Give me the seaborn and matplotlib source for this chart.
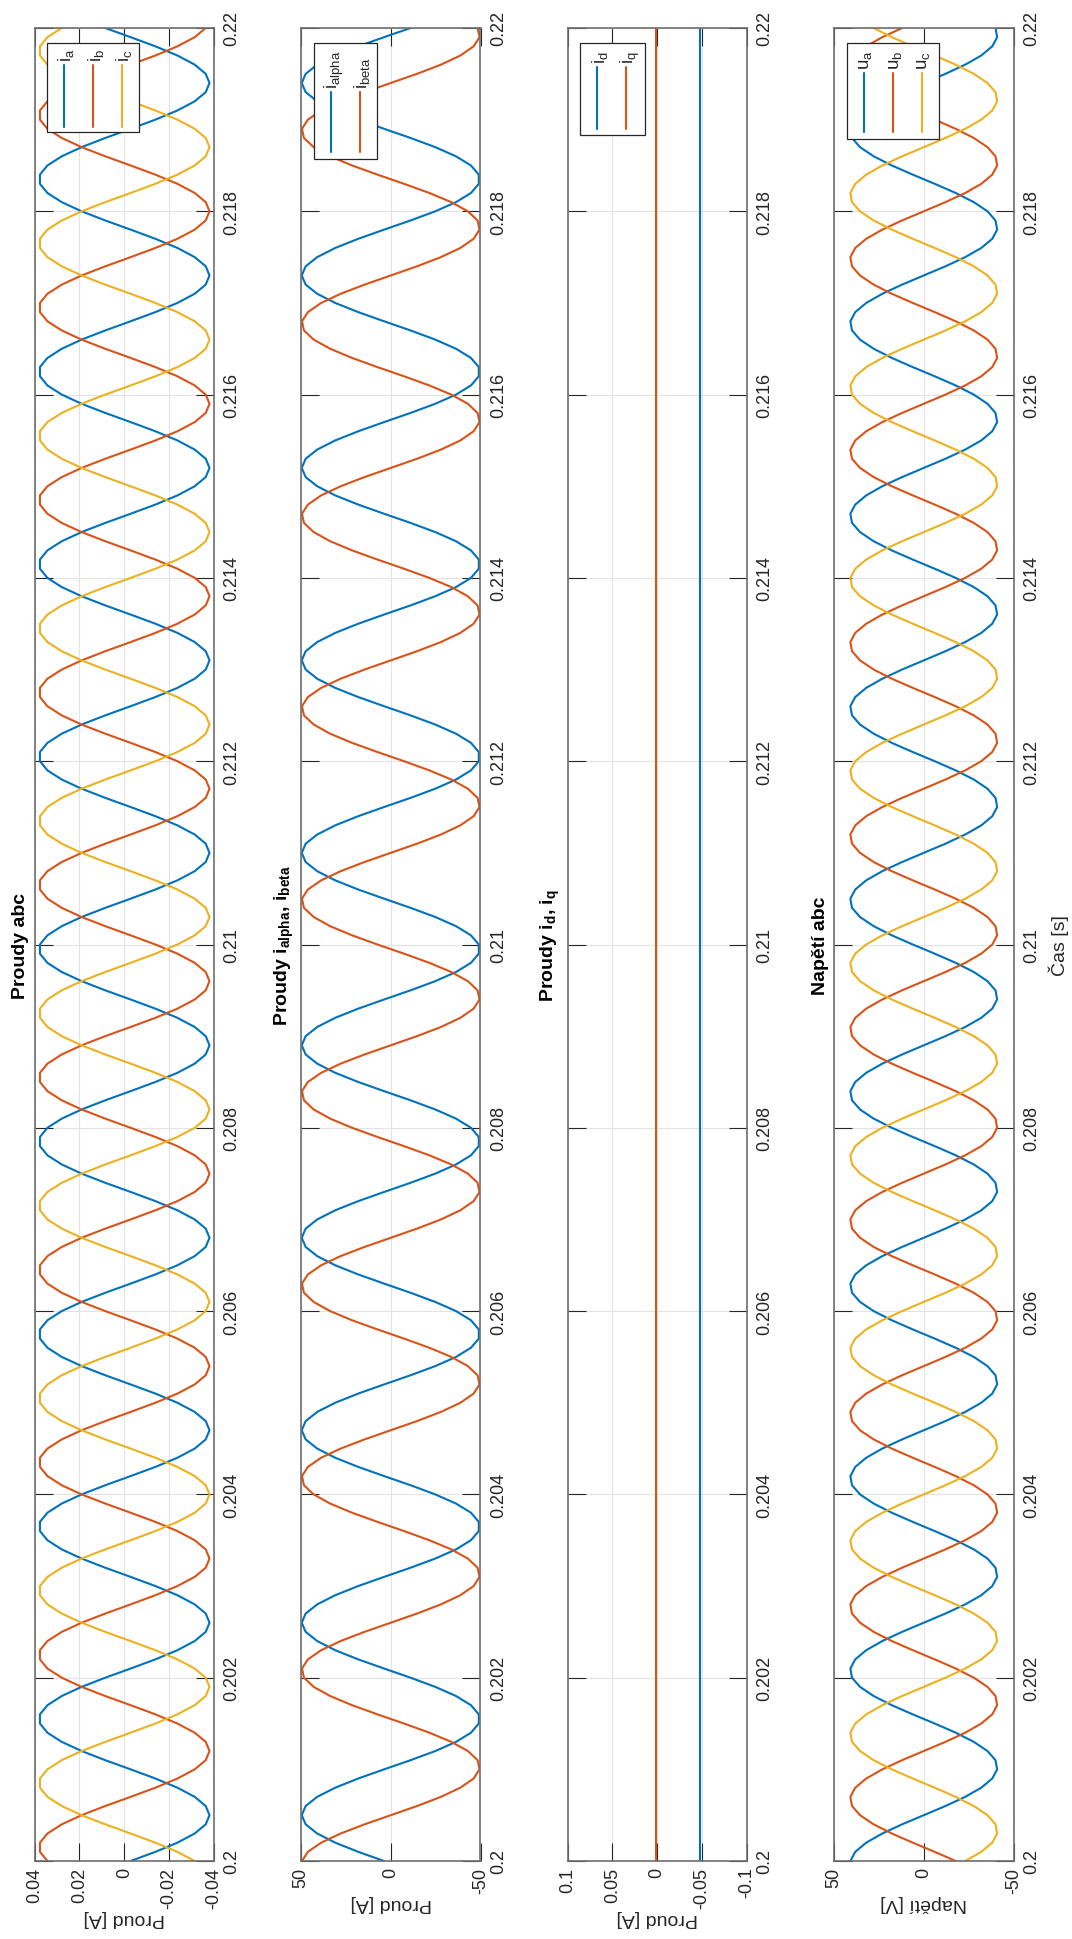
import numpy as np
import pandas as pd
import matplotlib
matplotlib.use("Agg")
import matplotlib.pyplot as plt
import seaborn as sns
from matplotlib.patches import Rectangle
from matplotlib.lines import Line2D

# sample times, 0.1 ms step
t = np.linspace(0.2, 0.22, 201)

# phase currents [A] (one sample per 0.1 ms)
i_a = [
    -0.00284, -0.01388, -0.02369, -0.03140, -0.03631, -0.03800, -0.03631, -0.03140, -0.02369, -0.01388, -0.00284, 0.00846, 0.01900, 0.02786, 0.03424, 0.03758, 0.03758, 0.03424, 0.02786, 0.01900, 0.00846,
    -0.00284, -0.01388, -0.02369, -0.03140, -0.03631, -0.03800, -0.03631, -0.03140, -0.02369, -0.01388, -0.00284, 0.00846, 0.01900, 0.02786, 0.03424, 0.03758, 0.03758, 0.03424, 0.02786, 0.01900, 0.00846,
    -0.00284, -0.01388, -0.02369, -0.03140, -0.03631, -0.03800, -0.03631, -0.03140, -0.02369, -0.01388, -0.00284, 0.00846, 0.01900, 0.02786, 0.03424, 0.03758, 0.03758, 0.03424, 0.02786, 0.01900, 0.00846,
    -0.00284, -0.01388, -0.02369, -0.03140, -0.03631, -0.03800, -0.03631, -0.03140, -0.02369, -0.01388, -0.00284, 0.00846, 0.01900, 0.02786, 0.03424, 0.03758, 0.03758, 0.03424, 0.02786, 0.01900, 0.00846,
    -0.00284, -0.01388, -0.02369, -0.03140, -0.03631, -0.03800, -0.03631, -0.03140, -0.02369, -0.01388, -0.00284, 0.00846, 0.01900, 0.02786, 0.03424, 0.03758, 0.03758, 0.03424, 0.02786, 0.01900, 0.00846,
    -0.00284, -0.01388, -0.02369, -0.03140, -0.03631, -0.03800, -0.03631, -0.03140, -0.02369, -0.01388, -0.00284, 0.00846, 0.01900, 0.02786, 0.03424, 0.03758, 0.03758, 0.03424, 0.02786, 0.01900, 0.00846,
    -0.00284, -0.01388, -0.02369, -0.03140, -0.03631, -0.03800, -0.03631, -0.03140, -0.02369, -0.01388, -0.00284, 0.00846, 0.01900, 0.02786, 0.03424, 0.03758, 0.03758, 0.03424, 0.02786, 0.01900, 0.00846,
    -0.00284, -0.01388, -0.02369, -0.03140, -0.03631, -0.03800, -0.03631, -0.03140, -0.02369, -0.01388, -0.00284, 0.00846, 0.01900, 0.02786, 0.03424, 0.03758, 0.03758, 0.03424, 0.02786, 0.01900, 0.00846,
    -0.00284, -0.01388, -0.02369, -0.03140, -0.03631, -0.03800, -0.03631, -0.03140, -0.02369, -0.01388, -0.00284, 0.00846, 0.01900, 0.02786, 0.03424, 0.03758, 0.03758, 0.03424, 0.02786, 0.01900, 0.00846,
    -0.00284, -0.01388, -0.02369, -0.03140, -0.03631, -0.03800, -0.03631, -0.03140, -0.02369, -0.01388, -0.00284, 0.00846,
]
i_b = [
    0.03424, 0.03758, 0.03758, 0.03424, 0.02786, 0.01900, 0.00846, -0.00284, -0.01388, -0.02369, -0.03140, -0.03631, -0.03800, -0.03631, -0.03140, -0.02369, -0.01388, -0.00284, 0.00846, 0.01900, 0.02786,
    0.03424, 0.03758, 0.03758, 0.03424, 0.02786, 0.01900, 0.00846, -0.00284, -0.01388, -0.02369, -0.03140, -0.03631, -0.03800, -0.03631, -0.03140, -0.02369, -0.01388, -0.00284, 0.00846, 0.01900, 0.02786,
    0.03424, 0.03758, 0.03758, 0.03424, 0.02786, 0.01900, 0.00846, -0.00284, -0.01388, -0.02369, -0.03140, -0.03631, -0.03800, -0.03631, -0.03140, -0.02369, -0.01388, -0.00284, 0.00846, 0.01900, 0.02786,
    0.03424, 0.03758, 0.03758, 0.03424, 0.02786, 0.01900, 0.00846, -0.00284, -0.01388, -0.02369, -0.03140, -0.03631, -0.03800, -0.03631, -0.03140, -0.02369, -0.01388, -0.00284, 0.00846, 0.01900, 0.02786,
    0.03424, 0.03758, 0.03758, 0.03424, 0.02786, 0.01900, 0.00846, -0.00284, -0.01388, -0.02369, -0.03140, -0.03631, -0.03800, -0.03631, -0.03140, -0.02369, -0.01388, -0.00284, 0.00846, 0.01900, 0.02786,
    0.03424, 0.03758, 0.03758, 0.03424, 0.02786, 0.01900, 0.00846, -0.00284, -0.01388, -0.02369, -0.03140, -0.03631, -0.03800, -0.03631, -0.03140, -0.02369, -0.01388, -0.00284, 0.00846, 0.01900, 0.02786,
    0.03424, 0.03758, 0.03758, 0.03424, 0.02786, 0.01900, 0.00846, -0.00284, -0.01388, -0.02369, -0.03140, -0.03631, -0.03800, -0.03631, -0.03140, -0.02369, -0.01388, -0.00284, 0.00846, 0.01900, 0.02786,
    0.03424, 0.03758, 0.03758, 0.03424, 0.02786, 0.01900, 0.00846, -0.00284, -0.01388, -0.02369, -0.03140, -0.03631, -0.03800, -0.03631, -0.03140, -0.02369, -0.01388, -0.00284, 0.00846, 0.01900, 0.02786,
    0.03424, 0.03758, 0.03758, 0.03424, 0.02786, 0.01900, 0.00846, -0.00284, -0.01388, -0.02369, -0.03140, -0.03631, -0.03800, -0.03631, -0.03140, -0.02369, -0.01388, -0.00284, 0.00846, 0.01900, 0.02786,
    0.03424, 0.03758, 0.03758, 0.03424, 0.02786, 0.01900, 0.00846, -0.00284, -0.01388, -0.02369, -0.03140, -0.03631,
]
i_c = [
    -0.03140, -0.02369, -0.01388, -0.00284, 0.00846, 0.01900, 0.02786, 0.03424, 0.03758, 0.03758, 0.03424, 0.02786, 0.01900, 0.00846, -0.00284, -0.01388, -0.02369, -0.03140, -0.03631, -0.03800, -0.03631,
    -0.03140, -0.02369, -0.01388, -0.00284, 0.00846, 0.01900, 0.02786, 0.03424, 0.03758, 0.03758, 0.03424, 0.02786, 0.01900, 0.00846, -0.00284, -0.01388, -0.02369, -0.03140, -0.03631, -0.03800, -0.03631,
    -0.03140, -0.02369, -0.01388, -0.00284, 0.00846, 0.01900, 0.02786, 0.03424, 0.03758, 0.03758, 0.03424, 0.02786, 0.01900, 0.00846, -0.00284, -0.01388, -0.02369, -0.03140, -0.03631, -0.03800, -0.03631,
    -0.03140, -0.02369, -0.01388, -0.00284, 0.00846, 0.01900, 0.02786, 0.03424, 0.03758, 0.03758, 0.03424, 0.02786, 0.01900, 0.00846, -0.00284, -0.01388, -0.02369, -0.03140, -0.03631, -0.03800, -0.03631,
    -0.03140, -0.02369, -0.01388, -0.00284, 0.00846, 0.01900, 0.02786, 0.03424, 0.03758, 0.03758, 0.03424, 0.02786, 0.01900, 0.00846, -0.00284, -0.01388, -0.02369, -0.03140, -0.03631, -0.03800, -0.03631,
    -0.03140, -0.02369, -0.01388, -0.00284, 0.00846, 0.01900, 0.02786, 0.03424, 0.03758, 0.03758, 0.03424, 0.02786, 0.01900, 0.00846, -0.00284, -0.01388, -0.02369, -0.03140, -0.03631, -0.03800, -0.03631,
    -0.03140, -0.02369, -0.01388, -0.00284, 0.00846, 0.01900, 0.02786, 0.03424, 0.03758, 0.03758, 0.03424, 0.02786, 0.01900, 0.00846, -0.00284, -0.01388, -0.02369, -0.03140, -0.03631, -0.03800, -0.03631,
    -0.03140, -0.02369, -0.01388, -0.00284, 0.00846, 0.01900, 0.02786, 0.03424, 0.03758, 0.03758, 0.03424, 0.02786, 0.01900, 0.00846, -0.00284, -0.01388, -0.02369, -0.03140, -0.03631, -0.03800, -0.03631,
    -0.03140, -0.02369, -0.01388, -0.00284, 0.00846, 0.01900, 0.02786, 0.03424, 0.03758, 0.03758, 0.03424, 0.02786, 0.01900, 0.00846, -0.00284, -0.01388, -0.02369, -0.03140, -0.03631, -0.03800, -0.03631,
    -0.03140, -0.02369, -0.01388, -0.00284, 0.00846, 0.01900, 0.02786, 0.03424, 0.03758, 0.03758, 0.03424, 0.02786,
]

# alpha/beta currents [A]
i_alpha = [
    3.71, 18.12, 30.93, 40.98, 47.40, 49.60, 47.40, 40.98, 30.93, 18.12, 3.71, -11.04, -24.80, -36.36, -44.69, -49.05, -49.05, -44.69, -36.36, -24.80, -11.04,
    3.71, 18.12, 30.93, 40.98, 47.40, 49.60, 47.40, 40.98, 30.93, 18.12, 3.71, -11.04, -24.80, -36.36, -44.69, -49.05, -49.05, -44.69, -36.36, -24.80, -11.04,
    3.71, 18.12, 30.93, 40.98, 47.40, 49.60, 47.40, 40.98, 30.93, 18.12, 3.71, -11.04, -24.80, -36.36, -44.69, -49.05, -49.05, -44.69, -36.36, -24.80, -11.04,
    3.71, 18.12, 30.93, 40.98, 47.40, 49.60, 47.40, 40.98, 30.93, 18.12, 3.71, -11.04, -24.80, -36.36, -44.69, -49.05, -49.05, -44.69, -36.36, -24.80, -11.04,
    3.71, 18.12, 30.93, 40.98, 47.40, 49.60, 47.40, 40.98, 30.93, 18.12, 3.71, -11.04, -24.80, -36.36, -44.69, -49.05, -49.05, -44.69, -36.36, -24.80, -11.04,
    3.71, 18.12, 30.93, 40.98, 47.40, 49.60, 47.40, 40.98, 30.93, 18.12, 3.71, -11.04, -24.80, -36.36, -44.69, -49.05, -49.05, -44.69, -36.36, -24.80, -11.04,
    3.71, 18.12, 30.93, 40.98, 47.40, 49.60, 47.40, 40.98, 30.93, 18.12, 3.71, -11.04, -24.80, -36.36, -44.69, -49.05, -49.05, -44.69, -36.36, -24.80, -11.04,
    3.71, 18.12, 30.93, 40.98, 47.40, 49.60, 47.40, 40.98, 30.93, 18.12, 3.71, -11.04, -24.80, -36.36, -44.69, -49.05, -49.05, -44.69, -36.36, -24.80, -11.04,
    3.71, 18.12, 30.93, 40.98, 47.40, 49.60, 47.40, 40.98, 30.93, 18.12, 3.71, -11.04, -24.80, -36.36, -44.69, -49.05, -49.05, -44.69, -36.36, -24.80, -11.04,
    3.71, 18.12, 30.93, 40.98, 47.40, 49.60, 47.40, 40.98, 30.93, 18.12, 3.71, -11.04,
]
i_beta = [
    49.46, 46.17, 38.78, 27.94, 14.62, 0.00, -14.62, -27.94, -38.78, -46.17, -49.46, -48.36, -42.95, -33.74, -21.52, -7.39, 7.39, 21.52, 33.74, 42.95, 48.36,
    49.46, 46.17, 38.78, 27.94, 14.62, 0.00, -14.62, -27.94, -38.78, -46.17, -49.46, -48.36, -42.95, -33.74, -21.52, -7.39, 7.39, 21.52, 33.74, 42.95, 48.36,
    49.46, 46.17, 38.78, 27.94, 14.62, 0.00, -14.62, -27.94, -38.78, -46.17, -49.46, -48.36, -42.95, -33.74, -21.52, -7.39, 7.39, 21.52, 33.74, 42.95, 48.36,
    49.46, 46.17, 38.78, 27.94, 14.62, 0.00, -14.62, -27.94, -38.78, -46.17, -49.46, -48.36, -42.95, -33.74, -21.52, -7.39, 7.39, 21.52, 33.74, 42.95, 48.36,
    49.46, 46.17, 38.78, 27.94, 14.62, 0.00, -14.62, -27.94, -38.78, -46.17, -49.46, -48.36, -42.95, -33.74, -21.52, -7.39, 7.39, 21.52, 33.74, 42.95, 48.36,
    49.46, 46.17, 38.78, 27.94, 14.62, 0.00, -14.62, -27.94, -38.78, -46.17, -49.46, -48.36, -42.95, -33.74, -21.52, -7.39, 7.39, 21.52, 33.74, 42.95, 48.36,
    49.46, 46.17, 38.78, 27.94, 14.62, 0.00, -14.62, -27.94, -38.78, -46.17, -49.46, -48.36, -42.95, -33.74, -21.52, -7.39, 7.39, 21.52, 33.74, 42.95, 48.36,
    49.46, 46.17, 38.78, 27.94, 14.62, 0.00, -14.62, -27.94, -38.78, -46.17, -49.46, -48.36, -42.95, -33.74, -21.52, -7.39, 7.39, 21.52, 33.74, 42.95, 48.36,
    49.46, 46.17, 38.78, 27.94, 14.62, 0.00, -14.62, -27.94, -38.78, -46.17, -49.46, -48.36, -42.95, -33.74, -21.52, -7.39, 7.39, 21.52, 33.74, 42.95, 48.36,
    49.46, 46.17, 38.78, 27.94, 14.62, 0.00, -14.62, -27.94, -38.78, -46.17, -49.46, -48.36,
]

# d/q currents [A] - flat over the window
t_dq = [0.2, 0.22]
i_d = [-0.048, -0.048]
i_q = [0.001, 0.001]

# phase voltages [V]
u_a = [
    40.89, 38.17, 32.06, 23.10, 12.08, 0.00, -12.08, -23.10, -32.06, -38.17, -40.89, -39.97, -35.51, -27.89, -17.79, -6.11, 6.11, 17.79, 27.89, 35.51, 39.97,
    40.89, 38.17, 32.06, 23.10, 12.08, 0.00, -12.08, -23.10, -32.06, -38.17, -40.89, -39.97, -35.51, -27.89, -17.79, -6.11, 6.11, 17.79, 27.89, 35.51, 39.97,
    40.89, 38.17, 32.06, 23.10, 12.08, 0.00, -12.08, -23.10, -32.06, -38.17, -40.89, -39.97, -35.51, -27.89, -17.79, -6.11, 6.11, 17.79, 27.89, 35.51, 39.97,
    40.89, 38.17, 32.06, 23.10, 12.08, 0.00, -12.08, -23.10, -32.06, -38.17, -40.89, -39.97, -35.51, -27.89, -17.79, -6.11, 6.11, 17.79, 27.89, 35.51, 39.97,
    40.89, 38.17, 32.06, 23.10, 12.08, 0.00, -12.08, -23.10, -32.06, -38.17, -40.89, -39.97, -35.51, -27.89, -17.79, -6.11, 6.11, 17.79, 27.89, 35.51, 39.97,
    40.89, 38.17, 32.06, 23.10, 12.08, 0.00, -12.08, -23.10, -32.06, -38.17, -40.89, -39.97, -35.51, -27.89, -17.79, -6.11, 6.11, 17.79, 27.89, 35.51, 39.97,
    40.89, 38.17, 32.06, 23.10, 12.08, 0.00, -12.08, -23.10, -32.06, -38.17, -40.89, -39.97, -35.51, -27.89, -17.79, -6.11, 6.11, 17.79, 27.89, 35.51, 39.97,
    40.89, 38.17, 32.06, 23.10, 12.08, 0.00, -12.08, -23.10, -32.06, -38.17, -40.89, -39.97, -35.51, -27.89, -17.79, -6.11, 6.11, 17.79, 27.89, 35.51, 39.97,
    40.89, 38.17, 32.06, 23.10, 12.08, 0.00, -12.08, -23.10, -32.06, -38.17, -40.89, -39.97, -35.51, -27.89, -17.79, -6.11, 6.11, 17.79, 27.89, 35.51, 39.97,
    40.89, 38.17, 32.06, 23.10, 12.08, 0.00, -12.08, -23.10, -32.06, -38.17, -40.89, -39.97,
]
u_b = [
    -17.79, -6.11, 6.11, 17.79, 27.89, 35.51, 39.97, 40.89, 38.17, 32.06, 23.10, 12.08, 0.00, -12.08, -23.10, -32.06, -38.17, -40.89, -39.97, -35.51, -27.89,
    -17.79, -6.11, 6.11, 17.79, 27.89, 35.51, 39.97, 40.89, 38.17, 32.06, 23.10, 12.08, 0.00, -12.08, -23.10, -32.06, -38.17, -40.89, -39.97, -35.51, -27.89,
    -17.79, -6.11, 6.11, 17.79, 27.89, 35.51, 39.97, 40.89, 38.17, 32.06, 23.10, 12.08, 0.00, -12.08, -23.10, -32.06, -38.17, -40.89, -39.97, -35.51, -27.89,
    -17.79, -6.11, 6.11, 17.79, 27.89, 35.51, 39.97, 40.89, 38.17, 32.06, 23.10, 12.08, 0.00, -12.08, -23.10, -32.06, -38.17, -40.89, -39.97, -35.51, -27.89,
    -17.79, -6.11, 6.11, 17.79, 27.89, 35.51, 39.97, 40.89, 38.17, 32.06, 23.10, 12.08, 0.00, -12.08, -23.10, -32.06, -38.17, -40.89, -39.97, -35.51, -27.89,
    -17.79, -6.11, 6.11, 17.79, 27.89, 35.51, 39.97, 40.89, 38.17, 32.06, 23.10, 12.08, 0.00, -12.08, -23.10, -32.06, -38.17, -40.89, -39.97, -35.51, -27.89,
    -17.79, -6.11, 6.11, 17.79, 27.89, 35.51, 39.97, 40.89, 38.17, 32.06, 23.10, 12.08, 0.00, -12.08, -23.10, -32.06, -38.17, -40.89, -39.97, -35.51, -27.89,
    -17.79, -6.11, 6.11, 17.79, 27.89, 35.51, 39.97, 40.89, 38.17, 32.06, 23.10, 12.08, 0.00, -12.08, -23.10, -32.06, -38.17, -40.89, -39.97, -35.51, -27.89,
    -17.79, -6.11, 6.11, 17.79, 27.89, 35.51, 39.97, 40.89, 38.17, 32.06, 23.10, 12.08, 0.00, -12.08, -23.10, -32.06, -38.17, -40.89, -39.97, -35.51, -27.89,
    -17.79, -6.11, 6.11, 17.79, 27.89, 35.51, 39.97, 40.89, 38.17, 32.06, 23.10, 12.08,
]
u_c = [
    -23.10, -32.06, -38.17, -40.89, -39.97, -35.51, -27.89, -17.79, -6.11, 6.11, 17.79, 27.89, 35.51, 39.97, 40.89, 38.17, 32.06, 23.10, 12.08, 0.00, -12.08,
    -23.10, -32.06, -38.17, -40.89, -39.97, -35.51, -27.89, -17.79, -6.11, 6.11, 17.79, 27.89, 35.51, 39.97, 40.89, 38.17, 32.06, 23.10, 12.08, 0.00, -12.08,
    -23.10, -32.06, -38.17, -40.89, -39.97, -35.51, -27.89, -17.79, -6.11, 6.11, 17.79, 27.89, 35.51, 39.97, 40.89, 38.17, 32.06, 23.10, 12.08, 0.00, -12.08,
    -23.10, -32.06, -38.17, -40.89, -39.97, -35.51, -27.89, -17.79, -6.11, 6.11, 17.79, 27.89, 35.51, 39.97, 40.89, 38.17, 32.06, 23.10, 12.08, 0.00, -12.08,
    -23.10, -32.06, -38.17, -40.89, -39.97, -35.51, -27.89, -17.79, -6.11, 6.11, 17.79, 27.89, 35.51, 39.97, 40.89, 38.17, 32.06, 23.10, 12.08, 0.00, -12.08,
    -23.10, -32.06, -38.17, -40.89, -39.97, -35.51, -27.89, -17.79, -6.11, 6.11, 17.79, 27.89, 35.51, 39.97, 40.89, 38.17, 32.06, 23.10, 12.08, 0.00, -12.08,
    -23.10, -32.06, -38.17, -40.89, -39.97, -35.51, -27.89, -17.79, -6.11, 6.11, 17.79, 27.89, 35.51, 39.97, 40.89, 38.17, 32.06, 23.10, 12.08, 0.00, -12.08,
    -23.10, -32.06, -38.17, -40.89, -39.97, -35.51, -27.89, -17.79, -6.11, 6.11, 17.79, 27.89, 35.51, 39.97, 40.89, 38.17, 32.06, 23.10, 12.08, 0.00, -12.08,
    -23.10, -32.06, -38.17, -40.89, -39.97, -35.51, -27.89, -17.79, -6.11, 6.11, 17.79, 27.89, 35.51, 39.97, 40.89, 38.17, 32.06, 23.10, 12.08, 0.00, -12.08,
    -23.10, -32.06, -38.17, -40.89, -39.97, -35.51, -27.89, -17.79, -6.11, 6.11, 17.79, 27.89,
]

time_ticks = [0.2, 0.202, 0.204, 0.206, 0.208, 0.21, 0.212, 0.214, 0.216, 0.218, 0.22]
time_labels = ["0.2", "0.202", "0.204", "0.206", "0.208", "0.21", "0.212", "0.214", "0.216", "0.218", "0.22"]

#Style
sns.set_style("ticks")
plt.rcParams['font.family'] = ['Liberation Sans', 'DejaVu Sans']
plt.rcParams['mathtext.fontset'] = 'custom'
plt.rcParams['mathtext.rm'] = 'Liberation Sans'
plt.rcParams['mathtext.it'] = 'Liberation Sans:italic'
plt.rcParams['mathtext.bf'] = 'Liberation Sans:bold'
plt.rcParams['mathtext.default'] = 'regular'

blue, red, yellow = '#0072BD', '#D95319', '#EDB120'
dark = '#262626'

W, H = 1072, 1940
fig = plt.figure(figsize=(W / 100, H / 100), dpi=100)

# page is landscape turned 90 deg: time runs upward, values grow to the left
panels = [
    dict(title='Proudy abc',
         series=[('i$_a$', t, i_a, blue), ('i$_b$', t, i_b, red), ('i$_c$', t, i_c, yellow)],
         xlim=(0.04, -0.04), xticks=[-0.04, -0.02, 0, 0.02, 0.04],
         xticklabels=['-0.04', '-0.02', '0', '0.02', '0.04'], xlabel='Proud [A]',
         leg=dict(w=92, h=89, ytop=65.7, ybot=128.2)),
    dict(title=r'Proudy i$_{\mathbf{alpha}}$, i$_{\mathbf{beta}}$',
         series=[('i$_{alpha}$', t, i_alpha, blue), ('i$_{beta}$', t, i_beta, red)],
         xlim=(50, -50), xticks=[-50, 0, 50], xticklabels=['-50', '0', '50'], xlabel='Proud [A]',
         leg=dict(w=63.6, h=115.5, ytop=92.6, ybot=153.3)),
    dict(title=r'Proudy i$_{\mathbf{d}}$, i$_{\mathbf{q}}$',
         series=[('i$_d$', t_dq, i_d, blue), ('i$_q$', t_dq, i_q, red)],
         xlim=(0.1, -0.1), xticks=[-0.1, -0.05, 0, 0.05, 0.1],
         xticklabels=['-0.1', '-0.05', '0', '0.05', '0.1'], xlabel='Proud [A]',
         leg=dict(w=65, h=92, ytop=68, ybot=130)),
    dict(title='Napětí abc',
         series=[('u$_a$', t, u_a, blue), ('u$_b$', t, u_b, red), ('u$_c$', t, u_c, yellow)],
         xlim=(50, -50), xticks=[-50, 0, 50], xticklabels=['-50', '0', '50'], xlabel='Napětí [V]',
         leg=dict(w=92, h=95.5, ytop=74, ybot=132.6)),
]

ax_w, ax_top, ax_bot = 179.5, 29, 1862

for i, p in enumerate(panels):
    left = 34.5 + 266.5 * i
    ax = fig.add_axes([left / W, (H - ax_bot) / H, ax_w / W, (ax_bot - ax_top) / H])

    df = pd.concat([pd.DataFrame({'t': tt, 'val': vv, 'name': nm}) for nm, tt, vv, _ in p['series']],
                   ignore_index=True)
    pal = {nm: c for nm, _, _, c in p['series']}
    sns.lineplot(data=df, x='val', y='t', hue='name', hue_order=list(pal), palette=pal,
                 orient='y', estimator=None, legend=False, linewidth=1.5, ax=ax)

    ax.set_xlim(*p['xlim'])
    ax.set_ylim(0.2, 0.22)
    ax.set_xticks(p['xticks'], labels=p['xticklabels'], rotation=90, ha='center', va='top')
    ax.set_yticks(time_ticks, labels=time_labels, rotation=90, va='center', ha='left')
    ax.tick_params(axis='both', direction='in', length=13, width=0.8, color=dark,
                   top=True, bottom=True, left=True, right=True,
                   labelleft=False, labelright=True, labelsize=13, labelcolor=dark)
    ax.tick_params(axis='x', pad=4)
    ax.tick_params(axis='y', pad=7)
    ax.grid(True, color='#e3e3e3', lw=0.8)
    ax.set_axisbelow(True)
    for s in ax.spines.values():
        s.set_color('#6e6e6e')
        s.set_linewidth(1.2)

    ax.set_xlabel(p['xlabel'], rotation=180, fontsize=14, labelpad=1, color=dark)
    ax.set_ylabel('')
    ax.text(-5 / ax_w, 0.5, p['title'], transform=ax.transAxes, rotation=90,
            ha='right', va='center', fontsize=14, fontweight='bold', color='black')

    # legend box drawn by hand (rotated layout)
    lg = p['leg']
    bx, by = left + 12.5, 44
    fig.add_artist(Rectangle((bx / W, 1 - (by + lg['h']) / H), lg['w'] / W, lg['h'] / H,
                             transform=fig.transFigure, facecolor='white',
                             edgecolor='#262626', lw=0.9, zorder=5))
    for j, (nm, _, _, c) in enumerate(p['series']):
        lx = bx + 17 + 29 * j
        fig.add_artist(Line2D([lx / W, lx / W], [1 - lg['ytop'] / H, 1 - lg['ybot'] / H],
                              transform=fig.transFigure, color=c, lw=1.5, zorder=6))
        fig.text(lx / W, 1 - (lg['ytop'] - 4) / H, nm, rotation=90, rotation_mode='anchor',
                 ha='left', va='center_baseline', fontsize=13.5, color=dark, zorder=6)

    if i == len(panels) - 1:
        ax.yaxis.set_label_position('right')
        ax.set_ylabel('Čas [s]', fontsize=14, color=dark, labelpad=6)

fig.savefig('out.png', dpi=100)
